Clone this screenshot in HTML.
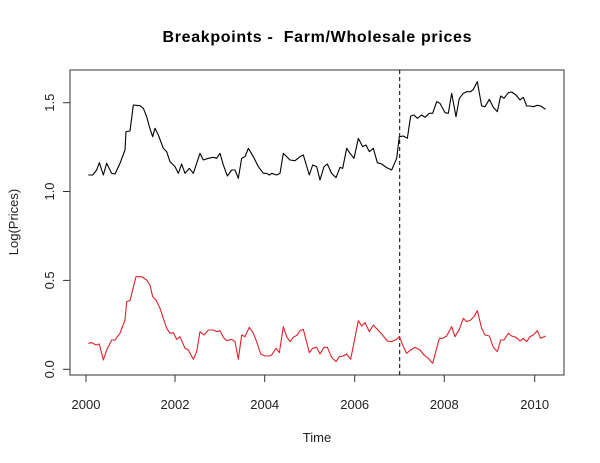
<!DOCTYPE html>
<html><head><style>body{margin:0;background:#fff}svg{display:block}</style></head>
<body>
<svg width="600" height="463" xmlns="http://www.w3.org/2000/svg" font-family="Liberation Sans, sans-serif">
<rect width="600" height="463" fill="#fff"/>
<text x="317" y="42" text-anchor="middle" font-size="16" font-weight="bold" textLength="309" xml:space="preserve">Breakpoints -  Farm/Wholesale prices</text>
<rect x="70" y="70" width="494" height="305" fill="none" stroke="#333" stroke-width="1"/>
<g stroke="#333" stroke-width="1">
<line x1="86" y1="375" x2="534.7" y2="375"/>
<line x1="86" y1="375" x2="86" y2="382"/>
<line x1="175" y1="375" x2="175" y2="382"/>
<line x1="264.7" y1="375" x2="264.7" y2="382"/>
<line x1="354.7" y1="375" x2="354.7" y2="382"/>
<line x1="444.3" y1="375" x2="444.3" y2="382"/>
<line x1="534.7" y1="375" x2="534.7" y2="382"/>
<line x1="70" y1="369.3" x2="70" y2="102.7"/>
<line x1="70" y1="369.3" x2="63" y2="369.3"/>
<line x1="70" y1="280.4" x2="63" y2="280.4"/>
<line x1="70" y1="191.5" x2="63" y2="191.5"/>
<line x1="70" y1="102.7" x2="63" y2="102.7"/>
</g>
<g font-size="13" text-anchor="middle" fill="#222">
<text x="86" y="409">2000</text><text x="175" y="409">2002</text><text x="264.7" y="409">2004</text>
<text x="354.7" y="409">2006</text><text x="444.3" y="409">2008</text><text x="534.7" y="409">2010</text>
<text transform="translate(54,369.3) rotate(-90)">0.0</text>
<text transform="translate(54,280.4) rotate(-90)">0.5</text>
<text transform="translate(54,191.5) rotate(-90)">1.0</text>
<text transform="translate(54,102.7) rotate(-90)">1.5</text>
<text x="317" y="442">Time</text>
<text transform="translate(18,222) rotate(-90)">Log(Prices)</text>
</g>
<line x1="399.7" y1="70" x2="399.7" y2="375" stroke="#000" stroke-dasharray="4,3" stroke-width="1"/>
<g fill="none" stroke-width="1.1" stroke-linejoin="round">
<g transform="translate(0,60) scale(0.33333)">
<polyline vector-effect="non-scaling-stroke" stroke="#000" points="265,345 278,345 290,330 298,308 310,345 320,310 335,340 345,342 360,310 375,270 378,215 390,213 400,135 420,137 430,145 440,170 448,200 458,230 465,205 475,225 490,265 500,275 510,305 525,320 535,340 545,312 555,340 568,325 580,340 600,280 610,300 625,295 640,292 650,295 660,280 670,315 682,348 695,330 705,330 715,355 725,295 735,290 745,265 760,290 775,320 790,340 800,340 808,345 815,340 830,345 840,340 850,280 860,290 870,300 885,302 900,290"/>
<polyline vector-effect="non-scaling-stroke" stroke="#e0202a" points="265,850 275,848 288,855 298,852 310,900 320,870 335,840 345,840 360,820 375,780 380,725 390,722 408,650 425,650 440,660 450,675 458,710 468,720 480,745 490,775 500,805 510,820 520,818 530,838 540,830 555,865 565,870 580,898 590,875 600,815 612,825 625,810 640,810 650,815 660,812 670,832 680,842 695,838 705,845 715,898 725,825 735,830 748,802 760,820 770,845 782,882 795,888 808,888 815,885 828,865 838,878 850,800 860,830 870,845 880,832 892,825 900,812"/>
</g>
<g transform="translate(300,60) scale(0.33333)">
<polyline vector-effect="non-scaling-stroke" stroke="#000" points="0,290 10,285 28,345 38,315 50,320 60,360 72,320 82,312 95,340 108,353 120,322 128,325 140,265 150,280 162,295 175,235 188,260 198,255 208,275 220,265 232,308 245,312 260,323 275,330 290,295 298,230 310,228 322,235 332,168 342,165 352,175 365,165 375,172 388,160 398,160 410,125 420,130 435,158 445,160 455,100 468,170 478,115 490,100 500,95 512,95 520,88 532,65 545,138 555,140 568,118 580,142 592,155 602,108 612,115 625,98 635,96 648,105 660,120 670,112 680,138 690,138 700,140 712,136 722,138 737,148"/>
<polyline vector-effect="non-scaling-stroke" stroke="#e0202a" points="0,812 10,808 28,878 38,865 50,862 60,882 72,862 82,862 95,892 108,905 118,890 130,888 140,882 152,898 175,782 185,798 195,788 208,815 220,795 232,808 245,822 262,843 275,845 290,838 298,830 310,860 320,880 332,870 345,862 360,870 372,885 385,895 398,910 418,835 428,835 440,828 455,800 465,830 478,808 490,775 500,785 512,780 522,770 532,752 545,805 555,825 568,828 580,862 592,875 602,840 612,840 625,820 635,828 648,832 660,843 670,835 680,845 690,830 700,825 712,812 722,835 737,828"/>
</g>
</g>
</svg>
</body></html>
